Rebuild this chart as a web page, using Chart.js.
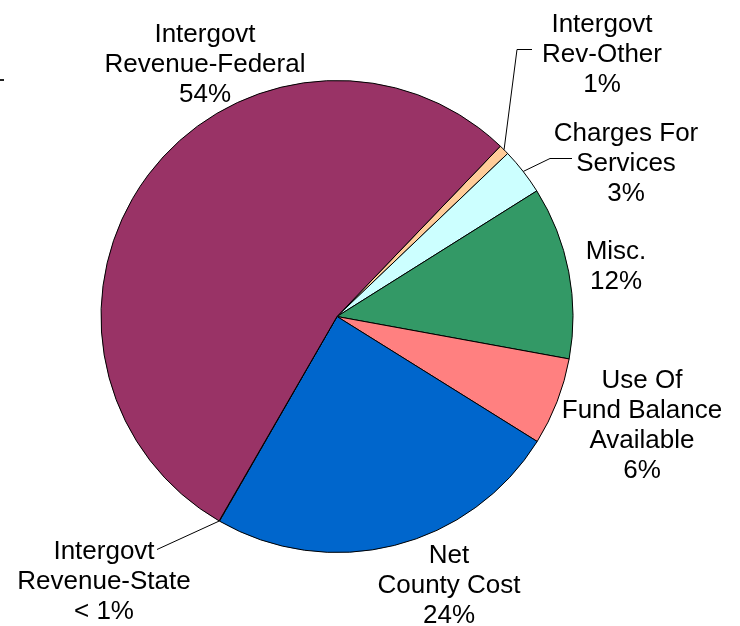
<!DOCTYPE html>
<html>
<head>
<meta charset="utf-8">
<title>Revenue Sources</title>
<script src="https://cdn.jsdelivr.net/npm/chart.js@4.4.0/dist/chart.umd.min.js"></script>
<style>
  html, body { margin: 0; padding: 0; background: #fff; }
  #wrap { width: 740px; height: 626px; position: relative; }
</style>
</head>
<body>
<div id="wrap"><canvas id="revenuePie"></canvas></div>
<script>
const categories = [
  ["Intergovt", "Rev-Other"],
  ["Charges For", "Services"],
  ["Misc."],
  ["Use Of", "Fund Balance", "Available"],
  ["Net", "County Cost"],
  ["Intergovt", "Revenue-State"],
  ["Intergovt", "Revenue-Federal"],
];
const shares = [0.7, 3.2, 11.8, 6.0, 24.4, 0.03, 53.8];
const sliceColors = ["#FFCC99", "#CCFFFF", "#339966", "#FF8080", "#0066CC", "#FFFF99", "#993366"];

// label centres, px from the pie centre
const labelOffsets = [[265, -264], [289, -155], [279, -52], [305, 107], [112, 267], [-233, 263], [-132, -254]];
// leader lines: bend point and end point, relative to the label centre
const leaders = [
  [[-85, -3], [-70, -3]],
  [[-76, -3], [-54, -3]],
  null, null, null,
  [[53, -30], [53, -30]],
  null,
];

function pctText(v, total) {
  const p = Math.round(v / total * 100);
  return p < 1 ? "< 1%" : p + "%";
}

const pieLabels = {
  id: "pieLabels",
  afterDatasetsDraw(chart) {
    const ctx = chart.ctx;
    const total = shares.reduce((a, b) => a + b, 0);
    const arcs = chart.getDatasetMeta(0).data;
    ctx.save();
    ctx.font = "26px 'Liberation Sans', Arial, sans-serif";
    ctx.textAlign = "center";
    ctx.textBaseline = "alphabetic";
    ctx.fillStyle = "#000";
    ctx.strokeStyle = "#000";
    ctx.lineWidth = 1;

    arcs.forEach((arc, i) => {
      const { x, y, startAngle, endAngle, outerRadius } =
        arc.getProps(["x", "y", "startAngle", "endAngle", "outerRadius"], true);
      const lx = x + labelOffsets[i][0];
      const ly = y + labelOffsets[i][1];
      const lines = [...categories[i], pctText(shares[i], total)];
      lines.forEach((t, k) => {
        ctx.fillText(t, lx, ly + 9 + (k - (lines.length - 1) / 2) * 30);
      });

      const ld = leaders[i];
      if (ld) {
        const mid = (startAngle + endAngle) / 2;
        ctx.beginPath();
        ctx.moveTo(x + Math.cos(mid) * outerRadius, y + Math.sin(mid) * outerRadius);
        ctx.lineTo(lx + ld[0][0], ly + ld[0][1]);
        ctx.lineTo(lx + ld[1][0], ly + ld[1][1]);
        ctx.stroke();
      }
    });

    // little tick at the left edge
    ctx.fillStyle = "#222";
    ctx.fillRect(0, 79, 4, 2);
    ctx.restore();
  }
};

new Chart(document.getElementById("revenuePie"), {
  type: "pie",
  data: {
    labels: categories,
    datasets: [{
      data: shares,
      backgroundColor: sliceColors,
      borderColor: "#000",
      borderWidth: 1,
    }]
  },
  options: {
    responsive: true,
    maintainAspectRatio: false,
    animation: false,
    rotation: 43.8,
    radius: 236,
    layout: { padding: { left: 0, right: 66, top: 7, bottom: 0 } },
    plugins: {
      legend: { display: false },
      tooltip: { enabled: false }
    }
  },
  plugins: [pieLabels]
});
</script>
</body>
</html>
